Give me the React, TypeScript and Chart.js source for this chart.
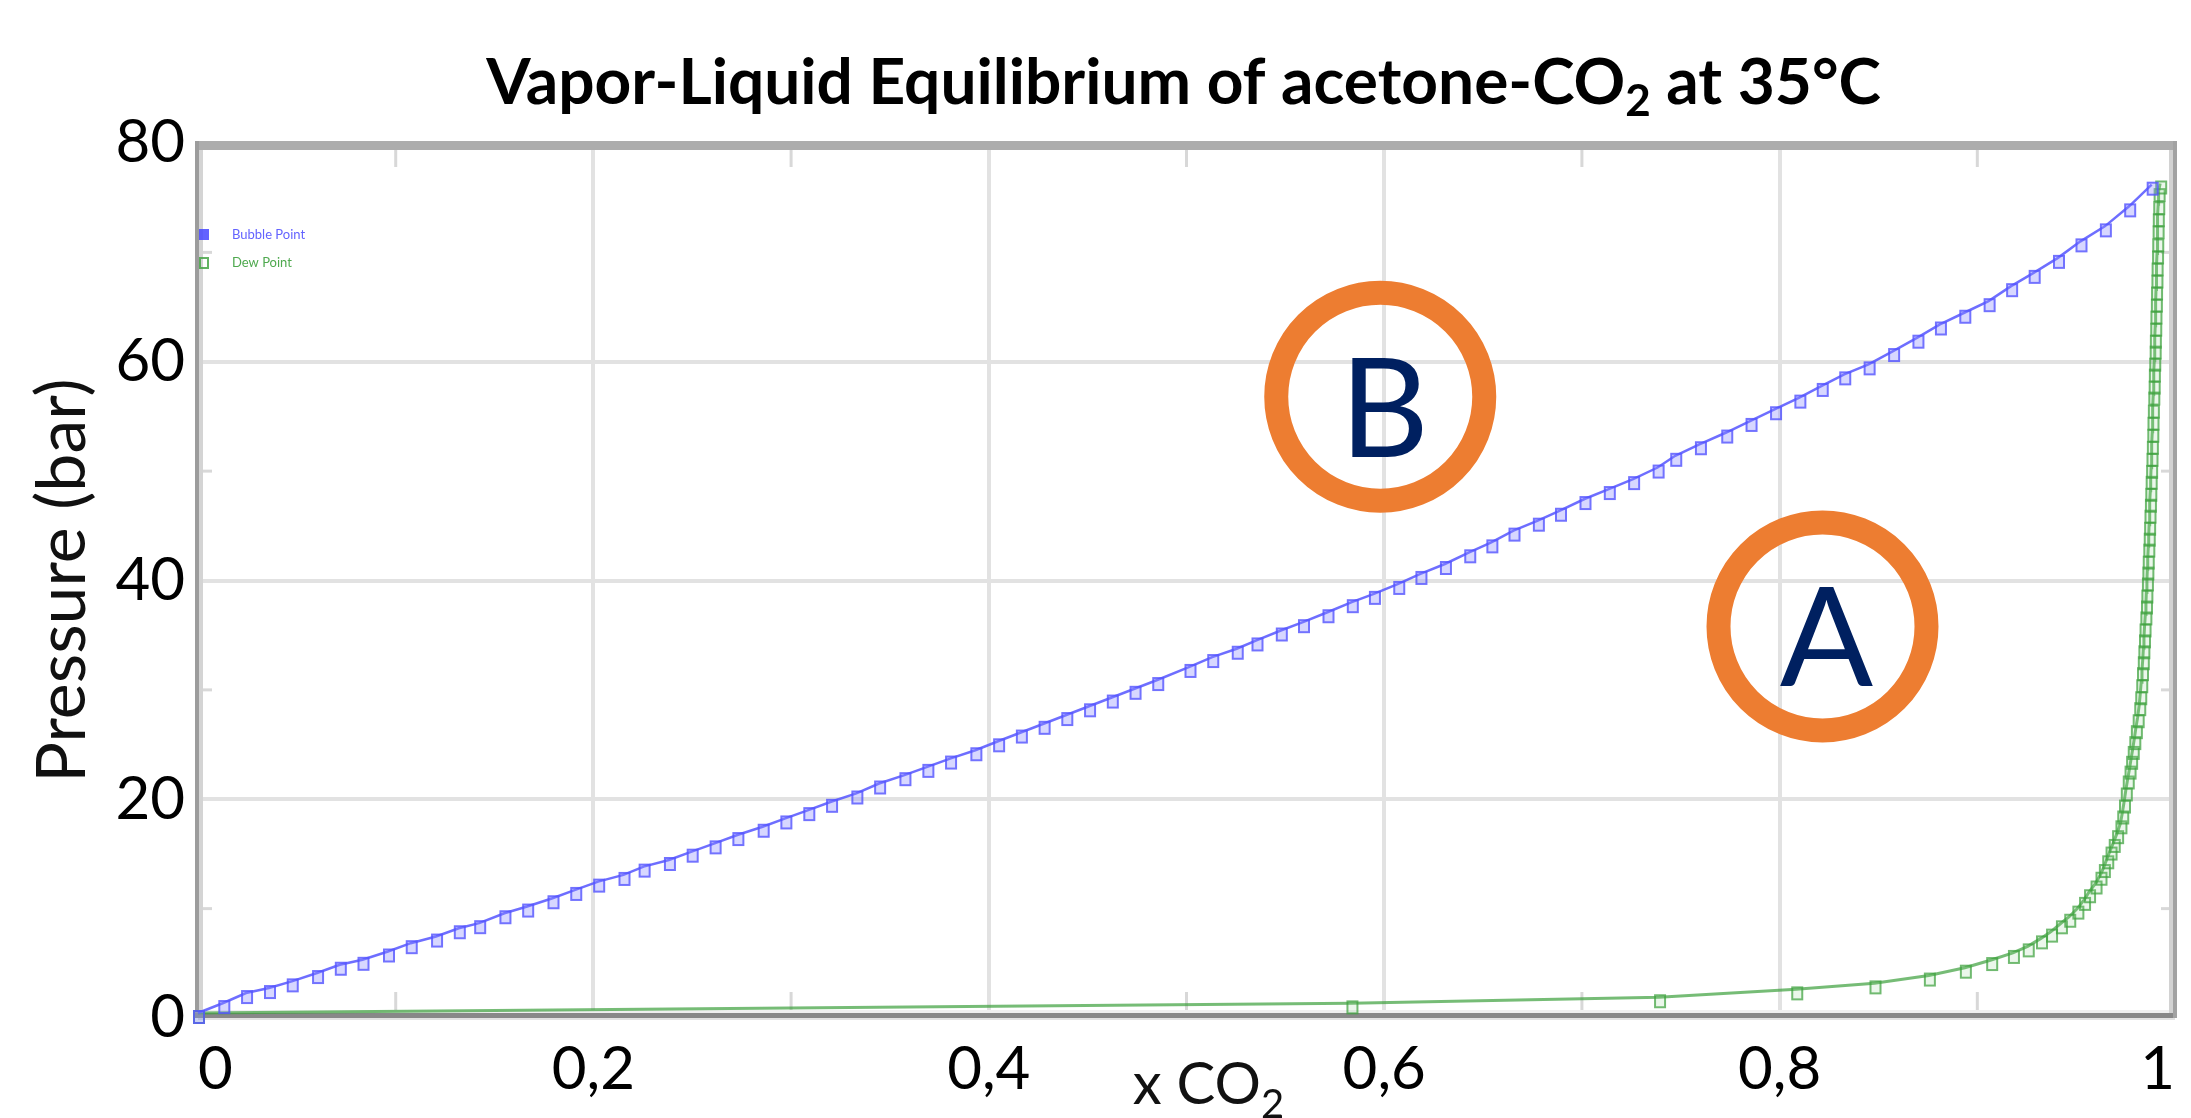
import { useEffect, useRef } from "react";
import { Chart, registerables } from "chart.js";

Chart.register(...registerables);

// ---------- data ----------
const seriesNames = ["Bubble Point", "Dew Point"];

const bubbleX = [0, 0.0128, 0.0243, 0.0359, 0.0474, 0.0602, 0.0717, 0.0832, 0.0961, 0.1076, 0.1204, 0.1319, 0.1422, 0.155, 0.1665, 0.1793, 0.1908, 0.2024, 0.2152, 0.2254, 0.2382, 0.2497, 0.2613, 0.2728, 0.2856, 0.2971, 0.3087, 0.3202, 0.333, 0.3445, 0.3573, 0.3689, 0.3804, 0.3932, 0.4047, 0.4162, 0.4277, 0.4392, 0.4507, 0.4622, 0.4737, 0.4852, 0.5015, 0.513, 0.5254, 0.5354, 0.5477, 0.5589, 0.5713, 0.5836, 0.5948, 0.6071, 0.6183, 0.6307, 0.643, 0.6542, 0.6654, 0.6777, 0.6889, 0.7013, 0.7136, 0.7259, 0.7383, 0.7472, 0.7597, 0.773, 0.7853, 0.7977, 0.81, 0.8213, 0.8327, 0.845, 0.8574, 0.8697, 0.8811, 0.8934, 0.9057, 0.9171, 0.9285, 0.9408, 0.9522, 0.9645, 0.9768, 0.9882];
const bubbleP = [0.46, 1.37, 2.28, 2.74, 3.35, 4.11, 4.87, 5.32, 6.08, 6.84, 7.45, 8.21, 8.67, 9.58, 10.19, 10.95, 11.71, 12.47, 13.08, 13.84, 14.45, 15.21, 15.97, 16.73, 17.49, 18.25, 19.01, 19.77, 20.53, 21.44, 22.2, 22.96, 23.72, 24.48, 25.3, 26.1, 26.9, 27.7, 28.5, 29.3, 30.1, 30.9, 32.1, 33.0, 33.76, 34.52, 35.43, 36.19, 37.1, 38.02, 38.78, 39.69, 40.6, 41.51, 42.58, 43.49, 44.56, 45.47, 46.38, 47.45, 48.36, 49.27, 50.33, 51.4, 52.46, 53.53, 54.59, 55.66, 56.72, 57.79, 58.85, 59.76, 60.98, 62.2, 63.41, 64.48, 65.54, 66.91, 68.13, 69.5, 71.01, 72.38, 74.21, 76.19];

const dewX = [0, 0.5834, 0.739, 0.8084, 0.848, 0.8755, 0.8937, 0.907, 0.918, 0.9255, 0.9322, 0.9373, 0.9423, 0.9465, 0.9506, 0.954, 0.9565, 0.9598, 0.9623, 0.964, 0.9657, 0.9674, 0.969, 0.9707, 0.9724, 0.9733, 0.9742, 0.9751, 0.9761, 0.977, 0.9778, 0.9786, 0.9794, 0.9802, 0.9811, 0.9819, 0.9824, 0.9829, 0.9833, 0.9837, 0.984, 0.9843, 0.9846, 0.985, 0.9853, 0.9855, 0.9858, 0.986, 0.9862, 0.9865, 0.9867, 0.9869, 0.9871, 0.9873, 0.9875, 0.9877, 0.9879, 0.9881, 0.9883, 0.9885, 0.9886, 0.9888, 0.989, 0.9892, 0.9893, 0.9895, 0.9897, 0.9898, 0.99, 0.9901, 0.9903, 0.9904, 0.9906, 0.9907, 0.9909, 0.991, 0.9912, 0.9913, 0.9915, 0.9917, 0.9925];
const dewP = [0.46, 1.34, 1.9, 2.62, 3.17, 3.88, 4.6, 5.3, 5.95, 6.55, 7.28, 7.9, 8.66, 9.26, 10.0, 10.8, 11.5, 12.3, 13.1, 13.8, 14.6, 15.4, 16.1, 16.9, 17.8, 18.7, 19.7, 20.8, 21.9, 22.8, 23.7, 24.6, 25.5, 26.5, 27.5, 28.6, 29.6, 30.7, 31.8, 32.8, 33.8, 34.8, 35.8, 36.9, 37.9, 38.9, 40.0, 41.0, 42.0, 43.1, 44.1, 45.1, 46.2, 47.2, 48.2, 49.3, 50.3, 51.4, 52.5, 53.6, 54.7, 55.8, 57.0, 58.0, 59.1, 60.1, 61.2, 62.2, 63.3, 64.4, 65.5, 66.6, 67.7, 68.8, 69.9, 71.0, 72.2, 73.3, 74.4, 75.6, 76.3];

const xTicks = [0, 0.2, 0.4, 0.6, 0.8, 1];
const xTickLabels = ["0", "0,2", "0,4", "0,6", "0,8", "1"];
const yTicks = [0, 20, 40, 60, 80];
const xMinor = [0.1, 0.3, 0.5, 0.7, 0.9];
const yMinor = [10, 30, 50, 70];

const titleParts = ["Vapor-Liquid Equilibrium of acetone-CO", "2", " at 35°C"];
const xTitleParts = ["x CO", "2"];
const yTitle = "Pressure (bar)";

const noteLabels = ["B", "A"];
const noteX = [0.598, 0.8217];
const noteY = [56.8, 35.8];

// ---------- styles ----------
const BLUE_LINE = "rgba(85,85,255,0.85)";
const GREEN_LINE = "rgba(60,160,60,0.7)";
const ORANGE = "#ED7D31";
const NAVY = "#002060";

function makeMarker(stroke: string, fill: string) {
  const c = document.createElement("canvas");
  c.width = 32;
  c.height = 32;
  const g = c.getContext("2d")!;
  g.fillStyle = fill;
  g.fillRect(11, 13, 12, 14);
  g.strokeStyle = stroke;
  g.lineWidth = 2;
  g.strokeRect(12, 14, 10, 12);
  return c;
}

const decorPlugin = {
  id: "decor",
  beforeDatasetsDraw(chart: any) {
    const { ctx, chartArea: a, scales } = chart;
    const xs = scales.x;
    const ys = scales.y;
    ctx.save();
    ctx.strokeStyle = "#d8d8d8";
    ctx.lineWidth = 3;
    const seg = (x1: number, y1: number, x2: number, y2: number) => {
      ctx.beginPath();
      ctx.moveTo(x1, y1);
      ctx.lineTo(x2, y2);
      ctx.stroke();
    };
    xMinor.forEach((v) => {
      const px = xs.getPixelForValue(v);
      seg(px, a.top, px, a.top + 24);
      seg(px, a.bottom - 26, px, a.bottom);
    });
    yMinor.forEach((v) => {
      const py = ys.getPixelForValue(v);
      seg(a.left, py, a.left + 14, py);
      seg(a.right - 14, py, a.right, py);
    });
    const w = a.right - a.left;
    const h = a.bottom - a.top;
    // frame
    ctx.fillStyle = "#acacac";
    ctx.fillRect(a.left - 3, a.top - 2, w + 5, 9);
    ctx.fillStyle = "#9c9c9c";
    ctx.fillRect(a.left - 3, a.top - 2, 4, h + 2);
    ctx.fillStyle = "#d4d4d4";
    ctx.fillRect(a.left + 1, a.top + 7, 4, h - 7);
    ctx.fillStyle = "#efefef";
    ctx.fillRect(a.left, a.bottom - 8, w, 3);
    ctx.fillStyle = "#888888";
    ctx.fillRect(a.left - 3, a.bottom - 5, w + 5, 5);
    ctx.fillStyle = "#d2d2d2";
    ctx.fillRect(a.right - 6, a.top + 7, 4, h - 12);
    ctx.fillStyle = "#a2a2a2";
    ctx.fillRect(a.right - 2, a.top - 2, 4, h + 2);
    ctx.restore();
  },
  afterDraw(chart: any) {
    const { ctx, chartArea: a, scales } = chart;
    const xs = scales.x;
    const ys = scales.y;
    ctx.save();
    // title
    const mainFont = "bold 64px Lato";
    const subFont = "bold 44px Lato";
    ctx.font = mainFont;
    const w1 = ctx.measureText(titleParts[0]).width;
    const w3 = ctx.measureText(titleParts[2]).width;
    ctx.font = subFont;
    const w2 = ctx.measureText(titleParts[1]).width;
    const total = w1 + w2 + w3;
    let tx = (a.left + a.right) / 2 - 3 - total / 2;
    const ty = 104;
    ctx.fillStyle = "#000";
    ctx.textBaseline = "alphabetic";
    ctx.textAlign = "left";
    ctx.font = mainFont;
    ctx.fillText(titleParts[0], tx, ty);
    tx += w1;
    ctx.font = subFont;
    ctx.fillText(titleParts[1], tx, ty + 12);
    tx += w2;
    ctx.font = mainFont;
    ctx.fillText(titleParts[2], tx, ty);

    // x axis title
    const xf = "58px Lato";
    const xsf = "40px Lato";
    ctx.font = xf;
    const xw1 = ctx.measureText(xTitleParts[0]).width;
    ctx.font = xsf;
    const xw2 = ctx.measureText(xTitleParts[1]).width;
    let xx = (a.left + a.right) / 2 + 22 - (xw1 + xw2) / 2;
    const xy = 1104;
    ctx.fillStyle = "#111";
    ctx.font = xf;
    ctx.fillText(xTitleParts[0], xx, xy);
    xx += xw1;
    ctx.font = xsf;
    ctx.fillText(xTitleParts[1], xx, xy + 14);

    // legend
    ctx.font = "13px Lato";
    ctx.textBaseline = "middle";
    ctx.fillStyle = "rgba(70,70,255,0.85)";
    ctx.fillRect(a.left + 1, 229, 10, 11);
    ctx.fillText(seriesNames[0], 232, 235);
    ctx.strokeStyle = "rgba(60,160,60,0.8)";
    ctx.lineWidth = 2;
    ctx.strokeRect(a.left + 2, 258, 8, 10);
    ctx.fillStyle = "rgba(60,160,60,0.9)";
    ctx.fillText(seriesNames[1], 232, 263);

    // annotation rings
    noteLabels.forEach((lab, i) => {
      const cx = xs.getPixelForValue(noteX[i]);
      const cy = ys.getPixelForValue(noteY[i]);
      ctx.beginPath();
      ctx.arc(cx, cy, 104, 0, Math.PI * 2);
      ctx.lineWidth = 24;
      ctx.strokeStyle = ORANGE;
      ctx.stroke();
      ctx.fillStyle = NAVY;
      ctx.font = "138px Lato";
      ctx.textAlign = "center";
      ctx.textBaseline = "alphabetic";
      ctx.fillText(lab, cx + 4, cy + 60);
    });
    ctx.restore();
  },
};

export default function App() {
  const ref = useRef<HTMLCanvasElement | null>(null);

  useEffect(() => {
    if (!ref.current) return;
    const blueMarker = makeMarker("rgba(80,80,255,0.75)", "rgba(140,140,255,0.35)");
    const greenMarker = makeMarker("rgba(60,160,60,0.7)", "rgba(120,200,120,0.15)");
    const chart = new Chart(ref.current, {
      type: "scatter",
      data: {
        datasets: [
          {
            label: seriesNames[0],
            data: bubbleX.map((x, i) => ({ x, y: bubbleP[i] })),
            showLine: true,
            borderColor: BLUE_LINE,
            borderWidth: 2.5,
            pointStyle: blueMarker as any,
            pointRadius: 8,
            tension: 0,
            clip: false as any,
          },
          {
            label: seriesNames[1],
            data: dewX.map((x, i) => ({ x, y: dewP[i] })),
            showLine: true,
            borderColor: GREEN_LINE,
            borderWidth: 3,
            pointStyle: greenMarker as any,
            pointRadius: 8,
            tension: 0,
            clip: false as any,
          },
        ],
      },
      options: {
        animation: false,
        responsive: true,
        maintainAspectRatio: false,
        layout: { padding: { left: 0, right: 2, top: 143, bottom: 0 } },
        plugins: {
          legend: { display: false },
          tooltip: { enabled: false },
          title: { display: false },
        },
        scales: {
          x: {
            type: "linear",
            min: 0,
            max: 1,
            afterBuildTicks: (s: any) => {
              s.ticks = xTicks.map((v) => ({ value: v }));
            },
            afterFit: (s: any) => {
              s.height = 100;
            },
            ticks: {
              align: "inner",
              padding: 16,
              color: "#000",
              font: { family: "Lato", size: 60 },
              maxRotation: 0,
              callback: (v: any) => {
                const i = xTicks.findIndex((t) => Math.abs(t - Number(v)) < 1e-6);
                return i >= 0 ? xTickLabels[i] : "";
              },
            },
            grid: { color: "#e2e2e2", lineWidth: 4, drawTicks: false },
            border: { display: false },
          },
          y: {
            type: "linear",
            min: 0,
            max: 80,
            afterBuildTicks: (s: any) => {
              s.ticks = yTicks.map((v) => ({ value: v }));
            },
            afterFit: (s: any) => {
              s.width = 198;
            },
            ticks: {
              padding: 13,
              color: "#000",
              font: { family: "Lato", size: 60 },
            },
            grid: { color: "#e2e2e2", lineWidth: 4, drawTicks: false },
            border: { display: false },
            title: {
              display: true,
              text: yTitle,
              color: "#111",
              font: { family: "Lato", size: 68 },
              padding: { top: 22, bottom: 0 },
            },
          },
        },
      },
      plugins: [decorPlugin],
    });
    return () => chart.destroy();
  }, []);

  return (
    <div style={{ position: "absolute", left: 0, top: 0, width: 2191, height: 1118, background: "#fff" }}>
      <canvas ref={ref} />
    </div>
  );
}
